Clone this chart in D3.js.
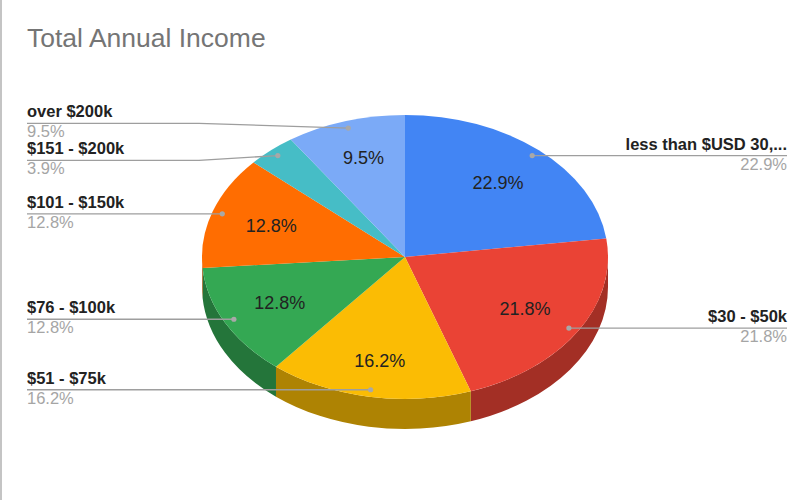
<!DOCTYPE html>
<html>
<head>
<meta charset="utf-8">
<script src="https://cdn.jsdelivr.net/npm/d3@7"></script>
<style>
  html, body { margin: 0; padding: 0; background: #fff; }
  svg { display: block; font-family: "Liberation Sans", Arial, sans-serif; }
</style>
</head>
<body>
<svg id="chart" width="810" height="500"></svg>
<script>
// ---- data ----
const title = "Total Annual Income";
const categories = ["less than $USD 30,...", "$30 - $50k", "$51 - $75k", "$76 - $100k", "$101 - $150k", "$151 - $200k", "over $200k"];
const values = [22.9, 21.8, 16.2, 12.8, 12.8, 3.9, 9.5];
const palette = ["#4285f4", "#ea4335", "#fbbc04", "#34a853", "#ff6d01", "#46bdc6", "#7baaf7"];

// ---- layout ----
const W = 810, H = 500;
const cx = 405, cy = 257, rx = 203, ry = 142, depth = 30;
const svg = d3.select("#chart");

svg.append("rect").attr("width", W).attr("height", H).attr("fill", "#fff");
svg.append("line").attr("x1", 1).attr("x2", 1).attr("y1", 0).attr("y2", H)
  .attr("stroke", "#b0b0b0").attr("stroke-width", 1.5);

svg.append("text").attr("x", 27).attr("y", 47)
  .attr("font-size", 26.5).attr("fill", "#757575").text(title);

const pie = d3.pie().sort(null).value(d => d).startAngle(0).endAngle(2 * Math.PI);
const arcs = pie(values).map((a, i) => ({...a, i}));

const px = (a, r = 1) => cx + rx * r * Math.sin(a);
const py = (a, r = 1) => cy - ry * r * Math.cos(a);

// sides (front half only)
const g = svg.append("g");
arcs.forEach(d => {
  const a0 = Math.max(d.startAngle, Math.PI / 2);
  const a1 = Math.min(d.endAngle, 3 * Math.PI / 2);
  if (a1 <= a0) return;
  const p = `M${px(a0)},${py(a0)} A${rx},${ry} 0 0 1 ${px(a1)},${py(a1)} ` +
            `L${px(a1)},${py(a1) + depth} A${rx},${ry} 0 0 0 ${px(a0)},${py(a0) + depth} Z`;
  g.append("path").attr("d", p).attr("fill", d3.color(palette[d.i]).darker(1.02));
});

// tops
arcs.forEach(d => {
  const large = (d.endAngle - d.startAngle) > Math.PI ? 1 : 0;
  const p = `M${cx},${cy} L${px(d.startAngle)},${py(d.startAngle)} ` +
            `A${rx},${ry} 0 ${large} 1 ${px(d.endAngle)},${py(d.endAngle)} Z`;
  g.append("path").attr("d", p).attr("fill", palette[d.i]);
});

// inner percent labels (hidden on very thin slices)
arcs.forEach(d => {
  if (values[d.i] < 5) return;
  const m = (d.startAngle + d.endAngle) / 2;
  const ky = 0.695 + 0.05 * Math.pow(Math.abs(Math.cos(m)), 8);
  g.append("text").attr("x", px(m, 0.695)).attr("y", cy - ry * ky * Math.cos(m)).attr("dy", "0.35em")
    .attr("text-anchor", "middle").attr("font-size", 18).attr("fill", "#222")
    .text(values[d.i].toFixed(1) + "%");
});

// outside labels with leader lines
const items = arcs.map(d => {
  const m = (d.startAngle + d.endAngle) / 2;
  return { i: d.i, m, dx: px(m, 0.95), dy: py(m, 0.95), side: m < Math.PI ? "right" : "left" };
});
const minGap = 37;
["left", "right"].forEach(side => {
  const s = items.filter(o => o.side === side).sort((a, b) => a.dy - b.dy);
  s.forEach(o => o.ly = o.dy);
  for (let k = 0; k < 100; k++) {
    for (let j = 1; j < s.length; j++) {
      const gap = s[j].ly - s[j - 1].ly;
      if (gap < minGap) {
        const push = (minGap - gap) / 2;
        s[j - 1].ly -= push; s[j].ly += push;
      }
    }
  }
});

const lg = svg.append("g");
items.forEach(o => {
  const left = o.side === "left";
  const xEdge = left ? 27 : 787;
  const bend = left ? cx - rx - 3 : cx + rx + 3;
  lg.append("path")
    .attr("d", `M${xEdge},${o.ly} L${bend},${o.ly} L${o.dx},${o.dy}`)
    .attr("fill", "none").attr("stroke", "#9e9e9e").attr("stroke-width", 1.4);
  lg.append("circle").attr("cx", o.dx).attr("cy", o.dy).attr("r", 2.6).attr("fill", "#a8a8a8");
  lg.append("text").attr("x", xEdge).attr("y", o.ly - 6)
    .attr("text-anchor", left ? "start" : "end")
    .attr("font-size", 16.5).attr("font-weight", "bold").attr("fill", "#222")
    .text(categories[o.i]);
  lg.append("text").attr("x", xEdge).attr("y", o.ly + 14)
    .attr("text-anchor", left ? "start" : "end")
    .attr("font-size", 16.5).attr("fill", "#a5a5a5")
    .text(values[o.i].toFixed(1) + "%");
});
</script>
</body>
</html>
